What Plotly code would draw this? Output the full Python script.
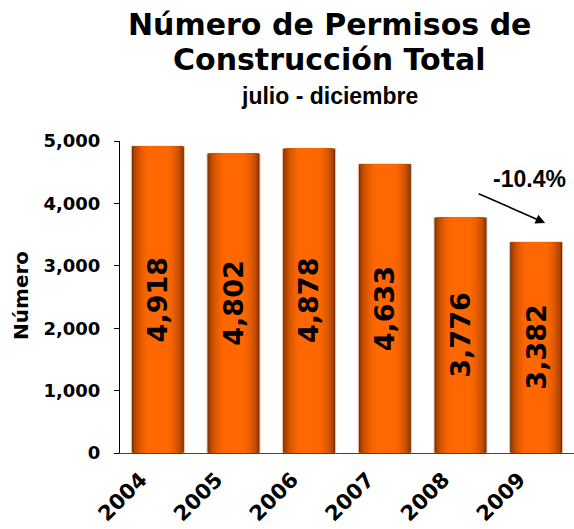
import plotly.graph_objects as go

years = ["2004", "2005", "2006", "2007", "2008", "2009"]
values = [4918, 4802, 4878, 4633, 3776, 3382]
title_line1 = "Número de Permisos de"
title_line2 = "Construcción Total"
subtitle = "julio - diciembre"
y_label = "Número"

pct = (values[5] - values[4]) / values[4] * 100
pct_text = f"{pct:.1f}%"

def mix(c1, c2, t):
    return "rgb(%d,%d,%d)" % tuple(round(a + (b - a) * t) for a, b in zip(c1, c2))

dark = (105, 38, 0)
bright = (255, 104, 0)
base_w = 0.70
N = 16
fig = go.Figure()
for k in range(N):
    f = 1 - 0.75 * k / (N - 1)
    t = (1 - f ** 2) ** 0.5
    t = min(1.0, t * 1.08)
    fig.add_trace(go.Bar(
        x=years, y=values,
        width=[base_w * f] * len(years),
        marker=dict(color=mix(dark, bright, t),
                    line=dict(color="#f0c8a8" if k == 0 else mix(dark, bright, t), width=1 if k == 0 else 0)),
        hoverinfo="skip", showlegend=False,
    ))

annotations = []
for i, v in enumerate(values):
    annotations.append(dict(x=i, y=v / 2, xref="x", yref="y", text=f"{v:,}",
                            textangle=-90, showarrow=False,
                            font=dict(family="DejaVu Sans", size=27, color="black", weight="bold")))

annotations += [
    dict(x=0.4614, y=1.375, xref="paper", yref="paper", text=f"<b>{title_line1}</b>", showarrow=False,
         font=dict(family="DejaVu Sans", size=30, color="black"), xanchor="center", yanchor="middle"),
    dict(x=0.4614, y=1.262, xref="paper", yref="paper", text=f"<b>{title_line2}</b>", showarrow=False,
         font=dict(family="DejaVu Sans", size=30, color="black"), xanchor="center", yanchor="middle"),
    dict(x=0.4614, y=1.143, xref="paper", yref="paper", text=f"<b>{subtitle}</b>", showarrow=False,
         font=dict(family="Liberation Sans", size=23, color="black"), xanchor="center", yanchor="middle"),
    dict(x=-0.2185, y=0.506, xref="paper", yref="paper", text=f"<b>{y_label}</b>", showarrow=False,
         textangle=-90, font=dict(family="DejaVu Sans", size=20, color="black"),
         xanchor="center", yanchor="middle"),
    dict(x=4.907, y=4391, xref="x", yref="y", text=f"<b>{pct_text}</b>", showarrow=False,
         font=dict(family="Liberation Sans", size=23, color="black"), xanchor="center", yanchor="middle"),
    dict(x=5.119, y=3686, xref="x", yref="y", text="", showarrow=True,
         ax=-68, ay=-30, axref="pixel", ayref="pixel",
         arrowhead=2, arrowsize=1.2, arrowwidth=1.6, arrowcolor="black"),
]

fig.update_layout(
    width=574, height=529,
    margin=dict(l=120, r=0, t=141, b=76, autoexpand=False),
    barmode="overlay", bargap=0.3,
    plot_bgcolor="white", paper_bgcolor="white",
    annotations=annotations,
    xaxis=dict(type="category", range=[-0.5, 5.5], showline=True, linecolor="#444", linewidth=1,
               ticks="", tickangle=-45, showgrid=False, automargin=False,
               ticklabelshift=-17, ticklabelstandoff=5,
               tickfont=dict(family="DejaVu Sans", size=21, color="black", weight="bold")),
    yaxis=dict(range=[0, 5000], dtick=1000, tickformat=",", showline=True, linecolor="black",
               linewidth=1, ticks="outside", ticklen=5, tickcolor="black", showgrid=False,
               zeroline=False, automargin=False, ticklabelstandoff=10,
               tickfont=dict(family="DejaVu Sans", size=18, color="black", weight="bold")),
)

fig.write_html("out.html", config={"displayModeBar": False},
               post_script="document.body.style.margin='0';")
